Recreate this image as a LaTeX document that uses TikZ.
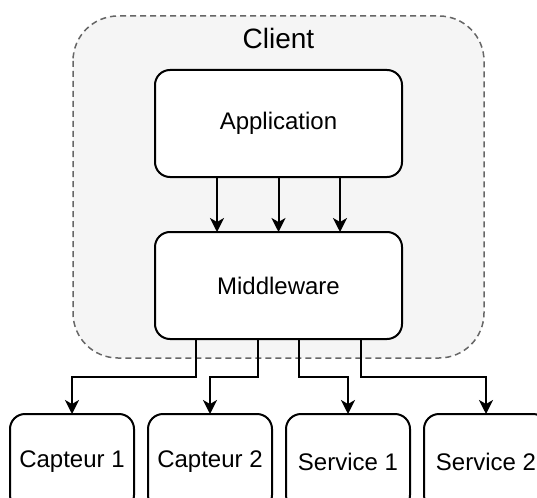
\documentclass[tikz,border=0pt]{standalone}
\usepackage{fontspec}
\setmainfont{Liberation Sans}
\usepackage{tikz}
\usetikzlibrary{arrows.meta, positioning, backgrounds}
\definecolor{clientfill}{HTML}{F5F5F5}
\definecolor{clientline}{HTML}{666666}
\tikzset{
  block/.style={draw, line width=2pt, rounded corners=15pt, fill=white,
                minimum width=247pt, minimum height=107pt, outer sep=0pt,
                font=\fontsize{24}{28}\selectfont},
  leaf/.style={draw, line width=2pt, rounded corners=15pt, fill=white,
               minimum width=124pt, minimum height=96pt, outer sep=0pt,
               font=\fontsize{24}{28}\selectfont},
  link/.style={line width=2pt, -{Stealth[length=14pt,width=14pt,inset=4pt]}}
}

\begin{document}
\begin{tikzpicture}[x=1pt, y=-1pt, node distance=14pt]
\useasboundingbox (0,0) rectangle (537,497);
%
% client container
\draw[clientline, fill=clientfill, dashed, line width=1.5pt,
      dash pattern=on 6pt off 4pt, rounded corners=45pt]
  (73,16) rectangle (484,358);
\node[font=\fontsize{28}{32}\selectfont] (client) at (278.5,38) {Client};
%
\node[block] (app) at (278.5,123.5) {Application};
\node[block, below=55pt of app] (mw) {Middleware};
%
\node[leaf] (c1) at (72,462) {Capteur 1};
\node[leaf, right=of c1] (c2) {Capteur 2};
\node[leaf, right=of c2] (s1) {Service 1};
\node[leaf, right=of s1] (s2) {Service 2};
%
\draw[link] ([xshift=-61.5pt]app.south) -- ([xshift=-61.5pt]mw.north);
\draw[link] (app.south) -- (mw.north);
\draw[link] ([xshift=61.5pt]app.south) -- ([xshift=61.5pt]mw.north);
%
\draw[link] ([xshift=-82.5pt]mw.south) -- ++(0,37.5) -| (c1.north);
\draw[link] ([xshift=-20.5pt]mw.south) -- ++(0,37.5) -| (c2.north);
\draw[link] ([xshift=20.5pt]mw.south) -- ++(0,37.5) -| (s1.north);
\draw[link] ([xshift=82.5pt]mw.south) -- ++(0,37.5) -| (s2.north);
%
\end{tikzpicture}
\end{document}
